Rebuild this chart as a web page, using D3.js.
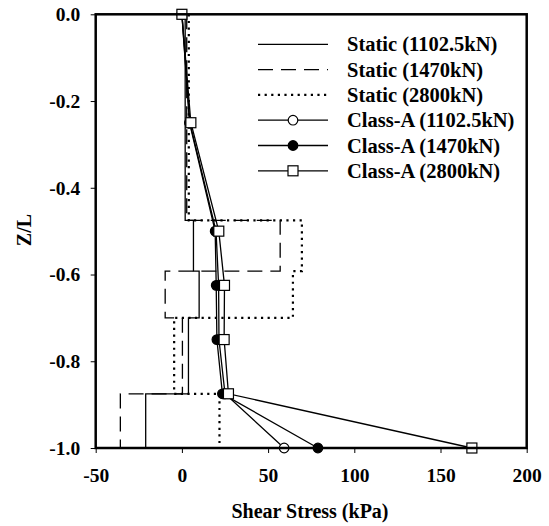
<!DOCTYPE html>
<html>
<head>
<meta charset="utf-8">
<script src="https://cdn.jsdelivr.net/npm/d3@7"></script>
<style>
  body { margin: 0; background: #fff; }
</style>
</head>
<body>
<svg id="chart"></svg>
<script>
'use strict';

// layer boundaries (Z/L) for the static step profiles
var zBounds = [0, -0.475, -0.592, -0.70, -0.875, -1.0];
var static1102 = [1.9, 6.7, 10.0, 3.8, -21.0];
var static1470 = [2.8, 57.0, -9.7, 0.3, -35.7];
var static2800 = [4.0, 69.6, 64.4, -4.5, 21.8];

// Class-A points
var classZ = [0, -0.25, -0.5, -0.625, -0.75, -0.875, -1.0];
var classA1102 = [0, 4.6, 19.8, 21.3, 21.5, 25.0, 59.3];
var classA1470 = [0, 4.4, 19.3, 19.9, 20.3, 23.5, 78.9];
var classA2800 = [0, 5.2, 21.4, 24.7, 24.5, 27.0, 168.2];

var xTicks = [-50, 0, 50, 100, 150, 200];
var yTicks = [0, -0.2, -0.4, -0.6, -0.8, -1.0];

var legendLabels = ['Static (1102.5kN)', 'Static (1470kN)', 'Static (2800kN)',
  'Class-A (1102.5kN)', 'Class-A (1470kN)', 'Class-A (2800kN)'];

var FONT = 'Liberation Serif';
var width = 549, height = 526;
var margin = {top: 14.3, left: 95.7, right: 22.3, bottom: 78};

var svg = d3.select('#chart')
  .attr('width', width)
  .attr('height', height);

var xScale = d3.scaleLinear()
  .domain([-50, 200])
  .range([margin.left, width - margin.right]);
var yScale = d3.scaleLinear()
  .domain([-1, 0])
  .range([height - margin.bottom, margin.top]);

var line = d3.line()
  .x(function (d) { return xScale(d[0]); })
  .y(function (d) { return yScale(d[1]); });

function stepPoints(vals) {
  var pts = [];
  vals.forEach(function (v, i) {
    pts.push([v, zBounds[i]]);
    pts.push([v, zBounds[i + 1]]);
  });
  return pts;
}

function classPoints(vals) {
  return vals.map(function (v, i) { return [v, classZ[i]]; });
}

function addText(g, txt, size) {
  return g.append('text')
    .attr('font-family', FONT)
    .attr('font-weight', 'bold')
    .attr('font-size', size || 20)
    .attr('fill', '#000')
    .text(txt);
}

var staticStyles = [
  {data: static1102, dash: null, w: 1.3},
  {data: static1470, dash: '15,8', w: 1.3},
  {data: static2800, dash: '2.2,4.4', w: 2.2}
];

staticStyles.forEach(function (s) {
  svg.append('path')
    .attr('d', line(stepPoints(s.data)))
    .attr('fill', 'none')
    .attr('stroke', '#000')
    .attr('stroke-width', s.w)
    .attr('stroke-dasharray', s.dash);
});

var classSeries = [
  {data: classA1102, marker: 'open'},
  {data: classA1470, marker: 'filled'},
  {data: classA2800, marker: 'square'}
];

classSeries.forEach(function (s) {
  svg.append('path')
    .attr('d', line(classPoints(s.data)))
    .attr('fill', 'none')
    .attr('stroke', '#000')
    .attr('stroke-width', 1.3);
});

function drawMarker(g, type, x, y) {
  if (type === 'square') {
    g.append('rect')
      .attr('x', x - 5).attr('y', y - 5)
      .attr('width', 10).attr('height', 10)
      .attr('fill', '#fff').attr('stroke', '#000').attr('stroke-width', 1.2);
  } else {
    g.append('circle')
      .attr('cx', x).attr('cy', y).attr('r', 4.8)
      .attr('fill', type === 'filled' ? '#000' : '#fff')
      .attr('stroke', '#000').attr('stroke-width', 1.2);
  }
}

var markers = svg.append('g');
classSeries.forEach(function (s) {
  classPoints(s.data).forEach(function (p) {
    drawMarker(markers, s.marker, xScale(p[0]), yScale(p[1]));
  });
});

// frame
svg.append('rect')
  .attr('x', margin.left)
  .attr('y', margin.top)
  .attr('width', xScale(200) - xScale(-50))
  .attr('height', yScale(-1) - yScale(0))
  .attr('fill', 'none')
  .attr('stroke', '#000')
  .attr('stroke-width', 2.5);

// axes
var xAxis = d3.axisBottom(xScale)
  .tickValues(xTicks)
  .tickSize(5)
  .tickSizeOuter(0)
  .tickPadding(15)
  .tickFormat(function (d) { return String(d); });

var yAxis = d3.axisLeft(yScale)
  .tickValues(yTicks)
  .tickSize(5)
  .tickSizeOuter(0)
  .tickPadding(10.5)
  .tickFormat(function (d) { return d.toFixed(1); });

var gx = svg.append('g')
  .attr('transform', 'translate(0,' + yScale(-1) + ')')
  .call(xAxis);
var gy = svg.append('g')
  .attr('transform', 'translate(' + margin.left + ',0)')
  .call(yAxis);

[gx, gy].forEach(function (g) {
  g.attr('font-family', FONT).attr('font-size', 19.5).attr('font-weight', 'bold');
  g.select('.domain').remove();
  g.selectAll('.tick line').attr('stroke', '#000').attr('stroke-width', 1);
  g.selectAll('.tick text')
    .attr('font-family', FONT)
    .attr('font-size', 19.5)
    .attr('font-weight', 'bold')
    .attr('fill', '#000');
});

addText(svg, 'Shear Stress (kPa)', 20)
  .attr('x', 310)
  .attr('y', 518)
  .attr('text-anchor', 'middle');

addText(svg, 'Z/L', 20)
  .attr('transform', 'translate(31,230) rotate(-90)')
  .attr('text-anchor', 'middle');

// legend
var legend = svg.append('g');
legendLabels.forEach(function (label, i) {
  var y = 44.3 + 25.3 * i;
  var row = legend.append('g');
  var st = i < 3 ? staticStyles[i] : {dash: null, w: 1.3};
  row.append('line')
    .attr('x1', 258).attr('x2', 328)
    .attr('y1', y).attr('y2', y)
    .attr('stroke', '#000')
    .attr('stroke-width', st.w)
    .attr('stroke-dasharray', st.dash);
  if (i >= 3) drawMarker(row, classSeries[i - 3].marker, 293, y);
  addText(row, label, 20.5)
    .attr('x', 347)
    .attr('y', y + 7);
});
</script>
</body>
</html>
